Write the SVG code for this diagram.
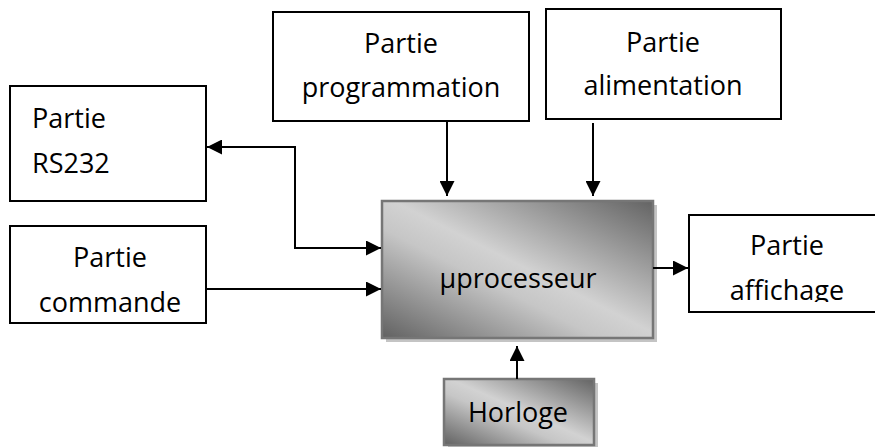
<svg xmlns="http://www.w3.org/2000/svg" width="875" height="447" viewBox="0 0 875 447">
<defs>
<linearGradient id="g" x1="1" y1="0" x2="0" y2="1">
<stop offset="0" stop-color="#636363"/>
<stop offset="0.48" stop-color="#d2d2d2"/>
<stop offset="0.6" stop-color="#c6c6c6"/>
<stop offset="1" stop-color="#616161"/>
</linearGradient>
<marker id="ah" viewBox="0 0 10 10" refX="10" refY="5" markerWidth="7.5" markerHeight="7.5" markerUnits="strokeWidth" orient="auto-start-reverse">
<path d="M0,0 L10,5 L0,10 Z" fill="#000"/>
</marker>
<clipPath id="affclip"><rect x="689" y="216" width="190" height="86"/></clipPath>
</defs>
<style>
.box{fill:#fff;stroke:#000;stroke-width:2}
.gbox{fill:url(#g);stroke:#767676;stroke-width:2.5}
.sh{fill:#c4c4c4}
.t{font-family:"Open Sans","Liberation Sans",sans-serif;font-size:27px;fill:#000}
.c{text-anchor:middle}
.ln{fill:none;stroke:#000;stroke-width:2}
</style>
<g id="rs232">
<rect class="box" x="10" y="86" width="196" height="115"/>
<text class="t" x="32" y="128">Partie</text>
<text class="t" x="32" y="173">RS232</text>
</g>
<g id="commande">
<rect class="box" x="10" y="226" width="196" height="97"/>
<text class="t c" x="110" y="267">Partie</text>
<text class="t c" x="110" y="312">commande</text>
</g>
<g id="programmation">
<rect class="box" x="273" y="12" width="256" height="109"/>
<text class="t c" x="401" y="53">Partie</text>
<text class="t c" x="401" y="97">programmation</text>
</g>
<g id="alimentation">
<rect class="box" x="546" y="9" width="235" height="110"/>
<text class="t c" x="663" y="52">Partie</text>
<text class="t c" x="663" y="95">alimentation</text>
</g>
<g id="affichage">
<rect class="box" x="689" y="215" width="200" height="97"/>
<g clip-path="url(#affclip)">
<text class="t c" x="787" y="255">Partie</text>
<text class="t c" x="787" y="300">affichage</text>
</g>
</g>
<g id="microprocesseur">
<rect class="sh" x="386" y="205" width="271" height="137"/>
<rect class="gbox" x="382" y="201" width="271" height="137"/>
<text class="t c" x="518" y="288">µprocesseur</text>
</g>
<g id="horloge">
<rect class="sh" x="448" y="383" width="150" height="66"/>
<rect class="gbox" x="444" y="379" width="150" height="66"/>
<text class="t c" x="518" y="422">Horloge</text>
</g>
<g id="connectors">
<line class="ln" x1="447" y1="121" x2="447" y2="196" marker-end="url(#ah)"/>
<line class="ln" x1="593" y1="123" x2="593" y2="196" marker-end="url(#ah)"/>
<polyline class="ln" points="381,248 295,248 295,147 207,147" marker-start="url(#ah)" marker-end="url(#ah)"/>
<line class="ln" x1="206" y1="289" x2="381" y2="289" marker-end="url(#ah)"/>
<line class="ln" x1="653" y1="268" x2="688" y2="268" marker-end="url(#ah)"/>
<line class="ln" x1="517" y1="379" x2="517" y2="346" marker-end="url(#ah)"/>
</g>
</svg>
